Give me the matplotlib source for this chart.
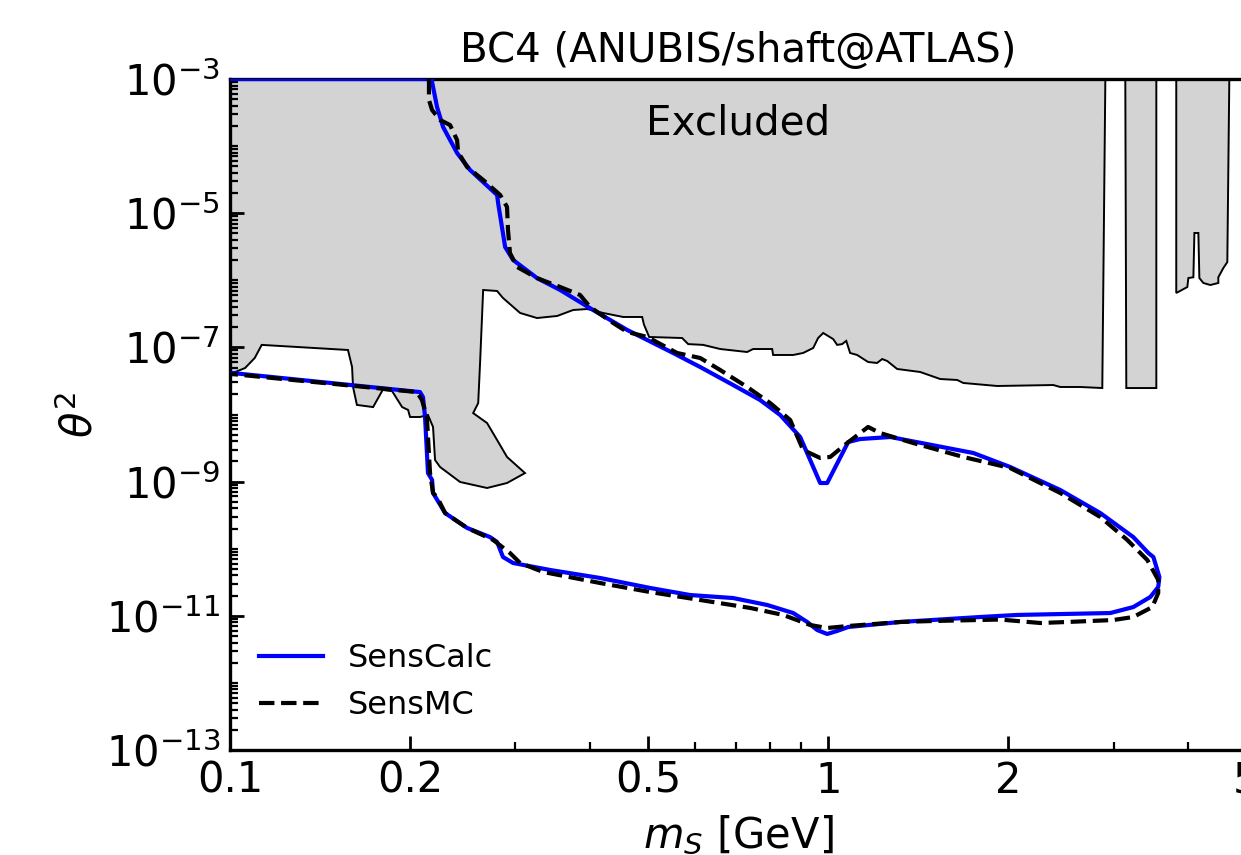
import numpy as np
import matplotlib
matplotlib.use("Agg")
import matplotlib.pyplot as plt
from matplotlib.ticker import LogLocator, FixedLocator, NullFormatter

# Excluded region (existing limits), main polygon
excl_m = [0.1, 0.1, 0.106, 0.110, 0.113, 0.1575, 0.160, 0.1606, 0.163, 0.1735,
          0.180, 0.1866, 0.194, 0.1985, 0.200, 0.2078, 0.2143, 0.2185, 0.2202, 0.2245,
          0.2425, 0.269, 0.2905, 0.3113, 0.2905, 0.2796, 0.269, 0.255, 0.260, 0.262,
          0.265, 0.2796, 0.286, 0.3055, 0.326, 0.3523, 0.3747, 0.3954, 0.4205, 0.4542,
          0.4887, 0.492, 0.502, 0.570, 0.5834, 0.618, 0.660, 0.732, 0.749, 0.806,
          0.809, 0.874, 0.908, 0.944, 0.962, 0.981, 1.0195, 1.035, 1.055, 1.072,
          1.088, 1.118, 1.166, 1.207, 1.231, 1.255, 1.304, 1.425, 1.539, 1.643,
          1.682, 1.917, 2.378, 2.443, 2.639, 2.872, 2.906]
excl_th = [1e-3, 4.0e-8, 4.93e-8, 6.95e-8, 1.09e-7, 9.15e-8, 5.1e-8, 2.57e-8, 1.39e-8, 1.29e-8,
           2.32e-8, 2.24e-8, 1.29e-8, 1.17e-8, 9.18e-9, 9.18e-9, 9.84e-9, 6.52e-9, 2.10e-9, 1.65e-9,
           9.87e-10, 8.03e-10, 9.53e-10, 1.34e-9, 2.33e-9, 4.17e-9, 7.47e-9, 1.05e-8, 1.48e-8, 6.49e-8,
           7.17e-7, 6.93e-7, 5.45e-7, 3.26e-7, 2.74e-7, 2.94e-7, 3.61e-7, 3.73e-7, 3.26e-7, 2.84e-7,
           2.84e-7, 2.2e-7, 1.43e-7, 1.38e-7, 1.12e-7, 1.09e-7, 9.46e-8, 8.54e-8, 9.46e-8, 9.46e-8,
           7.71e-8, 7.71e-8, 8.26e-8, 9.8e-8, 1.38e-7, 1.64e-7, 1.33e-7, 1.09e-7, 1.12e-7, 1.25e-7,
           8.26e-8, 7.71e-8, 6.06e-8, 5.86e-8, 6.71e-8, 6.27e-8, 4.77e-8, 4.30e-8, 3.38e-8, 3.27e-8,
           2.95e-8, 2.66e-8, 2.75e-8, 2.57e-8, 2.57e-8, 2.48e-8, 1e-3]

# narrow excluded strips at high mass
strip2_m = [3.138, 3.15, 3.536, 3.536]
strip2_th = [1e-3, 2.48e-8, 2.48e-8, 1e-3]
strip3_m = [3.818, 3.818, 3.984, 4.0, 4.078, 4.094, 4.157, 4.173, 4.238, 4.353,
            4.489, 4.489, 4.576, 4.647, 4.683]
strip3_th = [1e-3, 6.47e-7, 7.94e-7, 1.08e-6, 1.11e-6, 5.07e-6, 5.07e-6, 1.08e-6, 9.12e-7, 8.51e-7,
             9.12e-7, 1.11e-6, 1.52e-6, 1.87e-6, 1e-3]

# SensCalc sensitivity contour
calc_m = [0.1, 0.2177, 0.2177, 0.2219, 0.2271, 0.2397, 0.2520, 0.2796, 0.2807, 0.2884,
          0.2974, 0.326, 0.3564, 0.4046, 0.4613, 0.5506, 0.611, 0.6936, 0.7697, 0.8312,
          0.8978, 0.9696, 0.9961, 1.080, 1.131, 1.27, 1.748, 2.015, 2.443, 2.85,
          3.236, 3.429, 3.496, 3.578, 3.562, 3.456, 3.236, 2.962, 2.07, 1.796,
          1.319, 1.080, 1.035, 0.9961, 0.9585, 0.9224, 0.874, 0.7907, 0.6936, 0.5878,
          0.5039, 0.4157, 0.3428, 0.2974, 0.286, 0.2796, 0.2721, 0.2491, 0.2289, 0.2185,
          0.2177, 0.2143, 0.2119, 0.2102, 0.2078, 0.101, 0.1]
calc_th = [1e-3, 1e-3, 9.02e-4, 3.83e-4, 1.93e-4, 7.89e-5, 4.40e-5, 1.87e-5, 1.42e-5, 3.13e-6,
           2.01e-6, 1.08e-6, 7.17e-7, 3.61e-7, 1.82e-7, 8.25e-8, 5.1e-8, 2.75e-8, 1.64e-8, 9.84e-9,
           4.62e-9, 9.53e-10, 9.53e-10, 3.89e-9, 4.31e-9, 4.62e-9, 2.67e-9, 1.65e-9, 7.5e-10, 3.40e-10,
           1.49e-10, 8.63e-11, 7.52e-11, 3.79e-11, 2.69e-11, 1.91e-11, 1.35e-11, 1.10e-11, 1.03e-11, 9.6e-12,
           8.09e-12, 6.81e-12, 5.94e-12, 5.36e-12, 6.14e-12, 8.09e-12, 1.10e-11, 1.45e-11, 1.84e-11, 2.04e-11,
           2.60e-11, 3.66e-11, 4.82e-11, 6.12e-11, 7.52e-11, 1.26e-10, 1.49e-10, 2.04e-10, 3.40e-10, 6.77e-10,
           1.06e-9, 1.34e-9, 9.18e-9, 1.82e-8, 2.16e-8, 4.15e-8, 4.02e-8]

# SensMC sensitivity contour
mc_m = [0.2151, 0.2151, 0.2177, 0.2245, 0.2333, 0.2397, 0.2406, 0.2491, 0.265, 0.2829,
        0.2905, 0.2916, 0.2938, 0.302, 0.326, 0.3564, 0.3848, 0.3999, 0.4371, 0.4613,
        0.4984, 0.5591, 0.611, 0.660, 0.732, 0.80, 0.864, 0.908, 0.9696, 1.008,
        1.076, 1.166, 1.221, 1.387, 1.682, 1.917, 2.015, 2.443, 2.85, 3.162,
        3.415, 3.562, 3.562, 3.482, 3.236, 2.996, 2.51, 2.262, 1.939, 1.498,
        1.319, 1.080, 0.9961, 0.933, 0.841, 0.7405, 0.611, 0.5039, 0.4157, 0.3338,
        0.3055, 0.2938, 0.2754, 0.2491, 0.2289, 0.2219, 0.2185, 0.2160, 0.2134, 0.2094,
        0.2054, 0.101, 0.1]
mc_th = [1e-3, 4.87e-4, 3.45e-4, 2.45e-4, 2.06e-4, 1.23e-4, 8.17e-5, 4.88e-5, 3.13e-5, 1.87e-5,
         1.24e-5, 5.62e-6, 2.55e-6, 1.58e-6, 1.08e-6, 7.95e-7, 6.04e-7, 4.0e-7, 2.31e-7, 1.70e-7,
         1.43e-7, 8.25e-8, 6.95e-8, 4.6e-8, 2.57e-8, 1.48e-8, 8.28e-9, 2.96e-9, 2.25e-9, 2.33e-9,
         3.76e-9, 6.52e-9, 5.3e-9, 3.76e-9, 2.33e-9, 1.77e-9, 1.59e-9, 6.77e-10, 2.97e-10, 1.35e-10,
         6.79e-11, 3.42e-11, 2.19e-11, 1.35e-11, 9.6e-12, 8.65e-12, 8.09e-12, 7.81e-12, 8.8e-12, 8.37e-12,
         8.09e-12, 7.05e-12, 6.58e-12, 7.29e-12, 1.03e-11, 1.31e-11, 1.72e-11, 2.26e-11, 3.08e-11, 4.5e-11,
         6.12e-11, 8.63e-11, 1.35e-10, 2.04e-10, 3.40e-10, 5.9e-10, 6.77e-10, 1.34e-9, 9.18e-9, 1.64e-8,
         2.16e-8, 4.0e-8, 3.9e-8]

xticks = [0.1, 0.2, 0.5, 1, 2, 5]
xtick_labels = ["0.1", "0.2", "0.5", "1", "2", "5"]
xminor = [0.3, 0.4, 0.6, 0.7, 0.8, 0.9, 3, 4]

plt.rcParams["font.size"] = 15

fig = plt.figure(figsize=(6.205, 4.275), dpi=200)
ax = fig.add_axes([0.1853, 0.1228, 0.819, 0.7848])

# excluded regions
for xs, ys in [(excl_m, excl_th), (strip2_m, strip2_th), (strip3_m, strip3_th)]:
    ax.fill(xs, ys, facecolor="lightgray", edgecolor="black", linewidth=0.7, zorder=1)

ax.plot(calc_m, calc_th, color="blue", lw=1.5, label="SensCalc", zorder=3)
ax.plot(mc_m, mc_th, color="black", ls="--", lw=1.5, label="SensMC", zorder=4)

ax.text(0.5, 0.934, "Excluded", transform=ax.transAxes, ha="center", va="center", fontsize=14.6)

ax.set_xscale("log")
ax.set_yscale("log")
ax.set_xlim(0.1, 5)
ax.set_ylim(1e-13, 1e-3)

ax.xaxis.set_major_locator(FixedLocator(xticks))
ax.set_xticklabels(xtick_labels)
ax.xaxis.set_minor_locator(FixedLocator(xminor))
ax.xaxis.set_minor_formatter(NullFormatter())
ax.yaxis.set_major_locator(FixedLocator([1e-13, 1e-11, 1e-9, 1e-7, 1e-5, 1e-3]))
ax.yaxis.set_minor_locator(LogLocator(base=10, subs=np.arange(1, 10), numticks=100))
ax.yaxis.set_minor_formatter(NullFormatter())

ax.tick_params(which="both", direction="in", top=False, right=False)
ax.tick_params(which="major", length=5, width=1)
ax.tick_params(which="minor", length=3, width=0.8)
for s in ax.spines.values():
    s.set_linewidth(1.2)

ax.set_title("BC4 (ANUBIS/shaft@ATLAS)", fontsize=14.5)
ax.set_xlabel(r"$m_S$ [GeV]", labelpad=4.5)
ax.set_ylabel(r"$\theta^2$", labelpad=1.5)
ax.legend(loc="lower left", frameon=False, fontsize=11.5)

fig.savefig("out.png", dpi=200)
